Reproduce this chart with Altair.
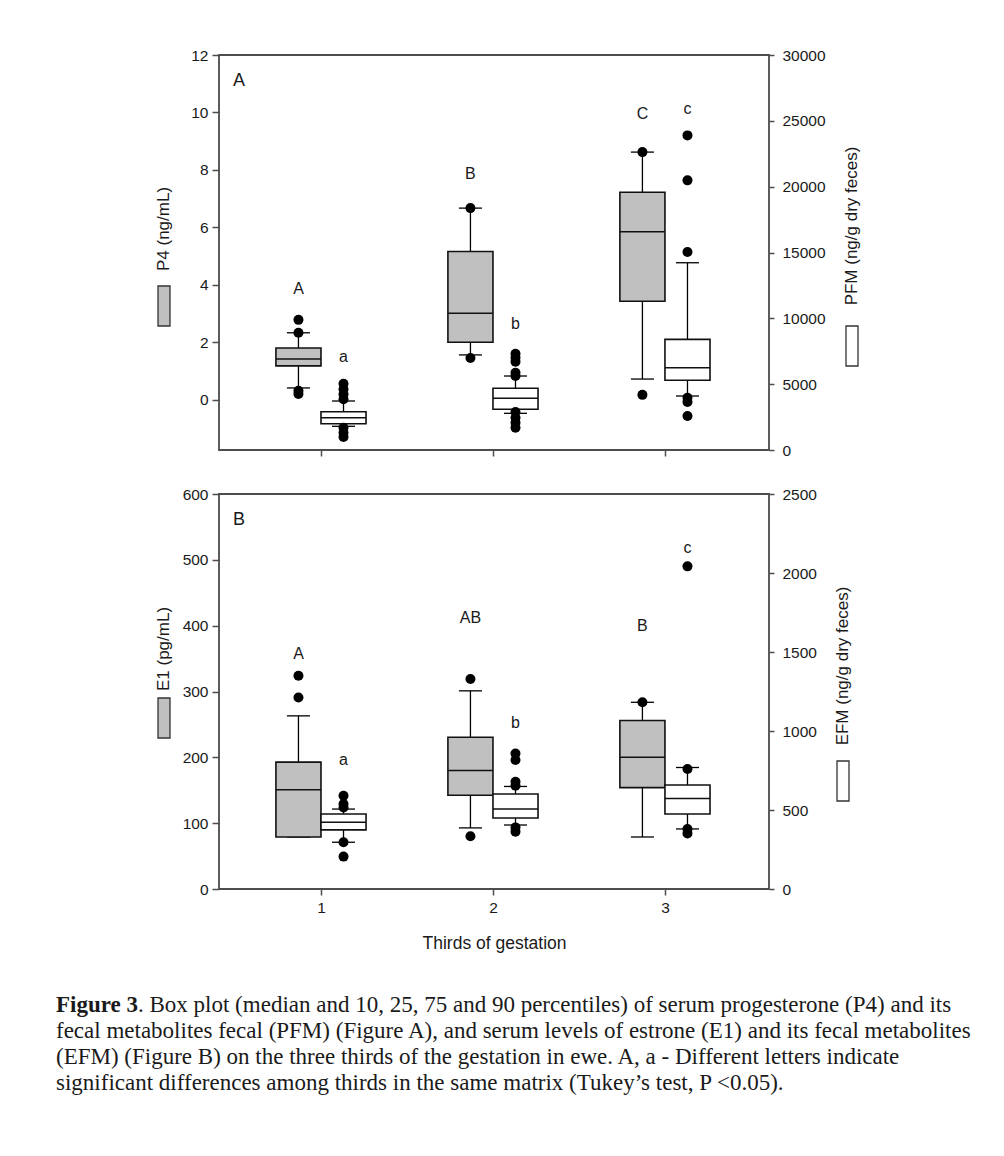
import altair as alt
import pandas as pd

THIRDS = [1, 2, 3]

# ---------------- Panel A ----------------
# serum progesterone P4 (ng/mL) – grey boxes, left axis
P4_P10 = [0.41, 1.56, 0.72]
P4_Q1 = [1.18, 2.00, 3.43]
P4_MED = [1.42, 3.01, 5.85]
P4_Q3 = [1.80, 5.16, 7.22]
P4_P90 = [2.33, 6.67, 8.62]
P4_OUT_THIRD = [1, 1, 1, 1, 2, 2, 3, 3]
P4_OUT_VAL = [2.78, 2.33, 0.31, 0.20, 6.67, 1.45, 8.62, 0.17]
P4_LETTER = ["A", "B", "C"]
P4_LETTER_Y = [3.87, 7.86, 9.93]

# fecal metabolites PFM (ng/g dry feces) – white boxes, right axis
PFM_P10 = [1800, 2787, 4100]
PFM_Q1 = [1997, 3090, 5292]
PFM_MED = [2453, 3925, 6249]
PFM_Q3 = [2908, 4685, 8405]
PFM_P90 = [3721, 5619, 14222]
PFM_OUT_THIRD = [1, 1, 1, 1, 1, 1, 1,
                 2, 2, 2, 2, 2, 2, 2, 2, 2,
                 3, 3, 3, 3, 3, 3]
PFM_OUT_VAL = [5034, 4609, 4229, 3850, 1693, 1314, 987,
               7312, 7008, 6705, 5870, 5619, 2885, 2453, 2073, 1693,
               23895, 20478, 15034, 3971, 3645, 2582]
PFM_LETTER = ["a", "b", "c"]
PFM_LETTER_Y = [7060, 9544, 25870]

# ---------------- Panel B ----------------
# serum estrone E1 (pg/mL) – grey boxes, left axis
E1_P10 = [79, 92.8, 79]
E1_Q1 = [79, 142.3, 154]
E1_MED = [150.9, 180, 200]
E1_Q3 = [192.7, 230.6, 255.9]
E1_P90 = [263, 301, 283.6]
E1_OUT_THIRD = [1, 1, 2, 2, 3]
E1_OUT_VAL = [324, 291, 319, 80, 283.6]
E1_LETTER = ["A", "AB", "B"]
E1_LETTER_Y = [357, 411, 400]

# fecal metabolites EFM (ng/g dry feces) – white boxes, right axis
EFM_P10 = [296, 405, 380]
EFM_Q1 = [374, 449, 475]
EFM_MED = [422, 506, 573]
EFM_Q3 = [475, 601, 658]
EFM_P90 = [506, 649, 769]
EFM_OUT_THIRD = [1, 1, 1, 1, 1, 2, 2, 2, 2, 2, 2, 3, 3, 3, 3]
EFM_OUT_VAL = [590, 538, 516, 296, 205, 857, 816, 679, 653, 390, 363, 2042, 759, 380, 352]
EFM_LETTER = ["a", "b", "c"]
EFM_LETTER_Y = [816, 1053, 2158]

X_TICKS = [1, 2, 3]
P4_TICKS = [0, 2, 4, 6, 8, 10, 12]
PFM_TICKS = [0, 5000, 10000, 15000, 20000, 25000, 30000]
E1_TICKS = [0, 100, 200, 300, 400, 500, 600]
EFM_TICKS = [0, 500, 1000, 1500, 2000, 2500]

CAPTION_BOLD = "Figure 3"
CAPTION_LINES = [
    ". Box plot (median and 10, 25, 75 and 90 percentiles) of serum progesterone (P4) and its",
    "fecal metabolites fecal (PFM) (Figure A), and serum levels of estrone (E1) and its fecal metabolites",
    "(EFM) (Figure B) on the three thirds of the gestation in ewe. A, a - Different letters indicate",
    "significant differences among thirds in the same matrix (Tukey\u2019s test, P <0.05).",
]

# ---------------- style ----------------
W, H = 550, 395
BW = 0.262      # box width (x units)
CW = 0.067      # half cap width
GREY = "#c0c0c0"
AX = "#4d4d4d"
TXT = "#1a1a1a"
FONT = "Liberation Sans"
SERIF = "Liberation Serif"
CAP_SIZE = 23
TICK_SIZE = 15.5

xscale = alt.Scale(domain=[0.407, 3.605], nice=False, zero=False)


def xaxis(labels):
    kw = dict(values=X_TICKS, grid=False, domain=False, tickColor=AX, tickSize=6,
              tickWidth=1.5, labelFlush=False, labelFont=FONT, labelFontSize=TICK_SIZE,
              labelColor=TXT, labelPadding=5)
    if labels:
        kw.update(title="Thirds of gestation", titleFont=FONT, titleFontSize=17.5,
                  titleFontWeight="normal", titleColor=TXT, titlePadding=19)
    else:
        kw.update(labels=False, title=None)
    return alt.Axis(**kw)


def yaxis(values, orient, fmt):
    return alt.Axis(values=values, orient=orient, grid=False, domain=False, title=None,
                    tickColor=AX, tickWidth=1.5, tickSize=7 if orient == "left" else 5,
                    labelFont=FONT, labelFontSize=TICK_SIZE, labelColor=TXT,
                    labelPadding=4 if orient == "left" else 8, format=fmt,
                    labelFlush=False)


def series(p10, q1, med, q3, p90, out_t, out_v, letters, letter_y,
           side, fill, domain, ticks, orient, show_x_labels):
    box = pd.DataFrame({"third": THIRDS, "p10": p10, "q1": q1, "med": med,
                        "q3": q3, "p90": p90})
    outl = pd.DataFrame({"third": out_t, "v": out_v})
    let = pd.DataFrame({"third": THIRDS, "lab": letters, "ly": letter_y})
    ys = alt.Scale(domain=domain, nice=False, zero=False)
    ya = yaxis(ticks, orient, "d")
    xa = xaxis(show_x_labels)

    off = "-%f" % BW if side < 0 else "0"
    off2 = "0" if side < 0 else "%f" % BW
    ctr = "%f" % (side * BW / 2)

    def calc(ch):
        return ch.transform_calculate(
            xl="datum.third + (" + off + ")",
            xr="datum.third + (" + off2 + ")",
            xc="datum.third + (" + ctr + ")",
            cl="datum.third + (" + ctr + ") - %f" % CW,
            cr="datum.third + (" + ctr + ") + %f" % CW,
        )

    def X(f):
        return alt.X(f, type="quantitative", scale=xscale, axis=xa)

    def Y(f):
        return alt.Y(f, type="quantitative", scale=ys, axis=ya)

    base = calc(alt.Chart(box))
    up = base.mark_rule(color="black", strokeWidth=1.3).encode(x=X("xc"), y=Y("q3"), y2="p90")
    lo = base.mark_rule(color="black", strokeWidth=1.3).encode(x=X("xc"), y=Y("p10"), y2="q1")
    capu = base.mark_rule(color="black", strokeWidth=1.3).encode(x=X("cl"), x2="cr", y=Y("p90"))
    capl = base.mark_rule(color="black", strokeWidth=1.3).encode(x=X("cl"), x2="cr", y=Y("p10"))
    rect = base.mark_rect(fill=fill, stroke="#111", strokeWidth=1.6).encode(
        x=X("xl"), x2="xr", y=Y("q1"), y2="q3")
    medr = base.mark_rule(color="#111", strokeWidth=1.5).encode(x=X("xl"), x2="xr", y=Y("med"))
    dots = calc(alt.Chart(outl)).mark_circle(size=100, color="black", opacity=1).encode(
        x=X("xc"), y=Y("v"))
    txt = calc(alt.Chart(let)).mark_text(font=FONT, fontSize=16, color=TXT,
                                         baseline="middle").encode(
        x=X("xc"), y=Y("ly"), text="lab:N")
    return alt.layer(up, lo, capu, capl, rect, medr, dots, txt)


ONE = pd.DataFrame({"k": [0]})


def label(text, x, y, size=17, angle=0, weight="normal", font=FONT, align="center"):
    return alt.Chart(ONE).mark_text(
        font=font, fontSize=size, angle=angle, fontWeight=weight, color=TXT,
        align=align, baseline="middle").encode(
        x=alt.value(x), y=alt.value(y), text=alt.value(text))


def swatch(x, y, fill):
    return alt.Chart(ONE).mark_rect(fill=fill, stroke="#333", strokeWidth=1.3).encode(
        x=alt.value(x), x2=alt.value(x + 12), y=alt.value(y), y2=alt.value(y + 40))


def frame():
    return alt.Chart(ONE).mark_rect(fill=None, stroke=AX, strokeWidth=1.8).encode(
        x=alt.value(0), x2=alt.value(W), y=alt.value(0), y2=alt.value(H))


# ---------- Panel A ----------
a_left = series(P4_P10, P4_Q1, P4_MED, P4_Q3, P4_P90, P4_OUT_THIRD, P4_OUT_VAL,
                P4_LETTER, P4_LETTER_Y, -1, GREY, [-1.75, 12], P4_TICKS, "left", False)
a_right = series(PFM_P10, PFM_Q1, PFM_MED, PFM_Q3, PFM_P90, PFM_OUT_THIRD, PFM_OUT_VAL,
                 PFM_LETTER, PFM_LETTER_Y, 1, "white", [0, 30000], PFM_TICKS, "right", False)
a_deco = alt.layer(
    frame(),
    label("A", 20, 26, size=18),
    label("P4 (ng/mL)", -55, 174, angle=270),
    swatch(-61, 231, GREY),
    label("PFM (ng/g dry feces)", 633, 171, angle=270),
    swatch(627, 271, "white"),
)
panel_a = alt.layer(a_left, a_right, a_deco).resolve_scale(y="independent").properties(
    width=W, height=H)

# ---------- Panel B ----------
b_left = series(E1_P10, E1_Q1, E1_MED, E1_Q3, E1_P90, E1_OUT_THIRD, E1_OUT_VAL,
                E1_LETTER, E1_LETTER_Y, -1, GREY, [0, 600], E1_TICKS, "left", True)
b_right = series(EFM_P10, EFM_Q1, EFM_MED, EFM_Q3, EFM_P90, EFM_OUT_THIRD, EFM_OUT_VAL,
                 EFM_LETTER, EFM_LETTER_Y, 1, "white", [0, 2500], EFM_TICKS, "right", True)
cap_y0 = 511
b_deco = alt.layer(
    frame(),
    label("B", 20, 26, size=18),
    label("E1 (pg/mL)", -55, 155, angle=270),
    swatch(-61, 204, GREY),
    label("EFM (ng/g dry feces)", 624, 172, angle=270),
    swatch(618, 267, "white"),
    label(CAPTION_BOLD, -163, cap_y0, size=CAP_SIZE, weight="bold", font=SERIF, align="left"),
    label(CAPTION_LINES[0], -163 + 82, cap_y0, size=CAP_SIZE, font=SERIF, align="left"),
    label(CAPTION_LINES[1], -163, cap_y0 + 26, size=CAP_SIZE, font=SERIF, align="left"),
    label(CAPTION_LINES[2], -163, cap_y0 + 52, size=CAP_SIZE, font=SERIF, align="left"),
    label(CAPTION_LINES[3], -163, cap_y0 + 78, size=CAP_SIZE, font=SERIF, align="left"),
)
panel_b = alt.layer(b_left, b_right, b_deco).resolve_scale(y="independent").properties(
    width=W, height=H)

chart = alt.vconcat(panel_a, panel_b, spacing=44, bounds="flush").properties(
    padding={"left": 47, "top": 39, "right": 5, "bottom": 5}
).configure_view(stroke=None).configure(background="white")

chart.save("out.html", embed_options={"renderer": "svg", "actions": False})
